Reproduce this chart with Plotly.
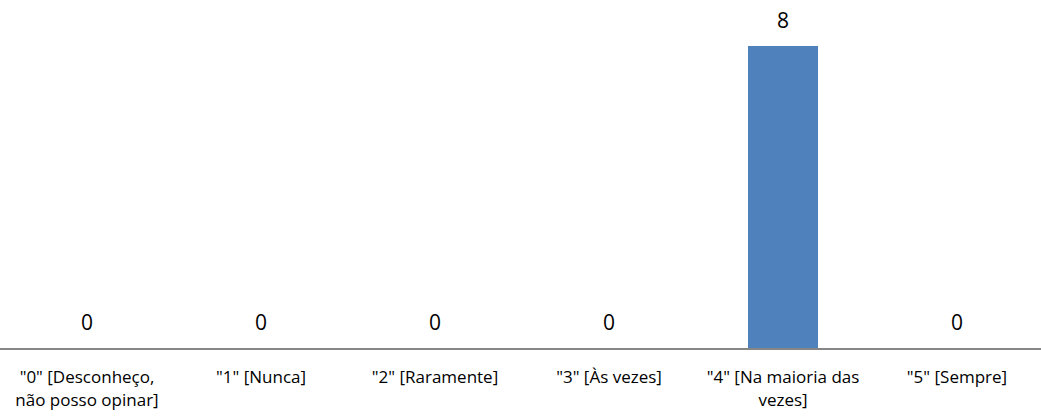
import plotly.graph_objects as go

categories = ['"0" [Desconheço,<br>não posso opinar]', '"1" [Nunca]', '"2" [Raramente]',
              '"3" [Às vezes]', '"4" [Na maioria das<br>vezes]', '"5" [Sempre]']
values = [0, 0, 0, 0, 8, 0]
value_labels = [str(v) for v in values]

xs = list(range(len(categories)))

fig = go.Figure()
fig.add_trace(go.Bar(
    x=xs, y=values, marker=dict(color="#4F81BD", line=dict(width=0)),
    width=0.4, hoverinfo="skip",
))
for x, v, t in zip(xs, values, value_labels):
    fig.add_annotation(x=x, y=v, xref="x", yref="y", text=t, showarrow=False,
                       yshift=26, font=dict(family="Open Sans", size=21, color="#000000"))

fig.update_layout(
    width=1041, height=416,
    margin=dict(l=0, r=0, t=46, b=68, pad=0, autoexpand=False),
    plot_bgcolor="white", paper_bgcolor="white",
    showlegend=False,
    font=dict(family="Open Sans", color="#000000"),
    bargap=0,
)
fig.update_xaxes(
    tickmode="array", tickvals=xs, ticktext=categories,
    range=[-0.5, 5.5 - 3 / 174], showline=True, linecolor="#868686", linewidth=2,
    ticks="", showgrid=False, tickfont=dict(family="Open Sans", size=17, color="#000000"),
    tickangle=0, automargin=False, ticklabelstandoff=13,
)
fig.update_yaxes(range=[0, 8], visible=False, showgrid=False, automargin=False)
fig.write_html("out.html", config={"displayModeBar": False},
               post_script="document.body.style.margin='0';document.body.style.padding='0';document.body.style.overflow='hidden';")
